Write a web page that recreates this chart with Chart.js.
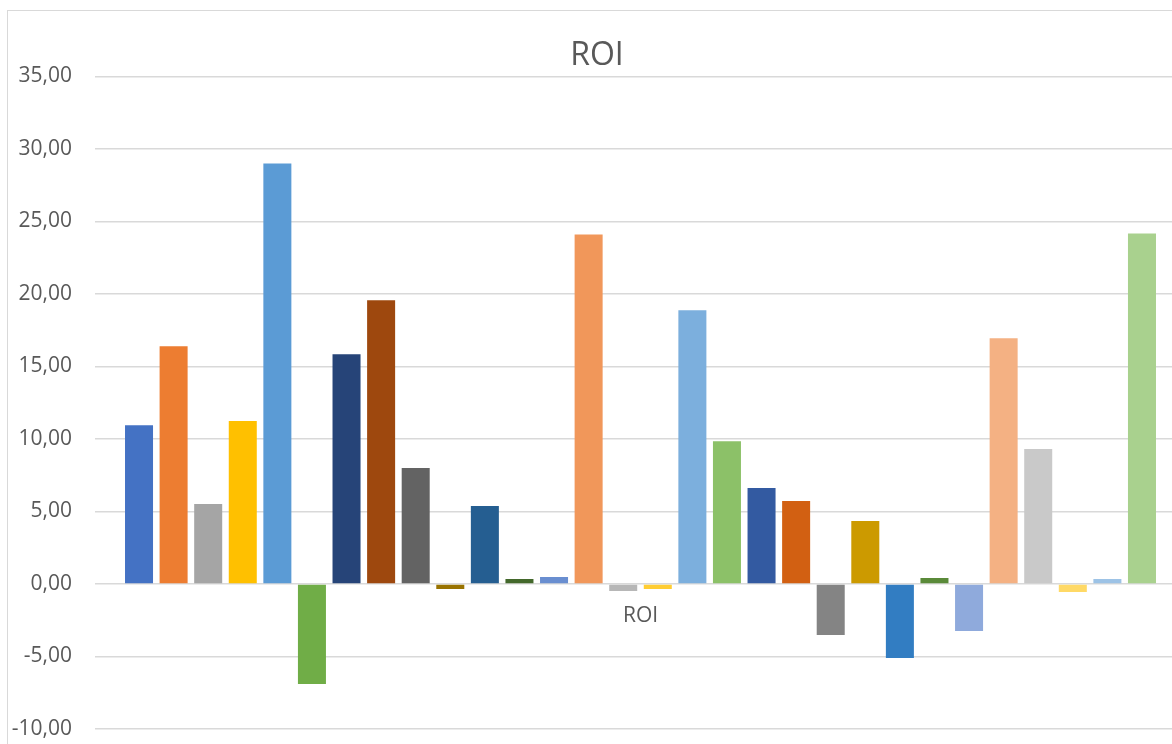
<!DOCTYPE html>
<html>
<head>
<meta charset="utf-8">
<script src="https://cdn.jsdelivr.net/npm/chart.js@4/dist/chart.umd.min.js"></script>
<style>
    html, body { margin: 0; padding: 0; background: #fff; overflow: hidden; }
    #chartBox {
        position: absolute;
        left: 7px;
        top: 10px;
        width: 1178px;
        height: 760px;
        border: 1px solid #d9d9d9;
    }
</style>
</head>
<body>
<div id="chartBox">
    <canvas id="chartRoi" width="1178" height="760"></canvas>
</div>
<script>
    // one category, every series is a single bar
    const categories = ['ROI'];

    const roiValues = [
        10.95, 16.39, 5.51, 11.23, 28.99, -6.89, 15.84, 19.56, 7.99, -0.34,
        5.37, 0.34, 0.48, 24.10, -0.48, -0.34, 18.87, 9.85, 6.61, 5.72,
        -3.51, 4.34, -5.10, 0.41, -3.24, 16.94, 9.30, -0.55, 0.34, 24.17
    ];

    const barColors = [
        '#4472C4', '#ED7D31', '#A5A5A5', '#FFC000', '#5B9BD5', '#70AD47',
        '#264478', '#9E480E', '#636363', '#997300', '#255E91', '#43682B',
        '#698ED0', '#F1975A', '#B7B7B7', '#FFCD33', '#7CAFDD', '#8CC168',
        '#335AA1', '#D26012', '#848484', '#CC9A00', '#327DC2', '#5A8A39',
        '#8FAADC', '#F4B183', '#C9C9C9', '#FFD966', '#9DC3E6', '#A9D18E'
    ];

    const yMin = -10;
    const yMax = 35;
    const yStep = 5;

    function formatTick(value) {
        return value.toFixed(2).replace('.', ',');
    }

    let datasets = [];
    roiValues.forEach((value, i) => {
        datasets.push({
            label: 'ROI ' + (i + 1),
            data: [value],
            backgroundColor: barColors[i],
            borderWidth: 0,
            categoryPercentage: 0.951,
            barPercentage: 0.81
        });
    });

    var ctx = document.getElementById('chartRoi');

    const chartRoi = new Chart(ctx, {
        type: 'bar',
        data: {
            labels: categories,
            datasets: datasets
        },
        options: {
            responsive: false,
            animation: false,
            devicePixelRatio: 1,
            layout: {
                padding: { left: 0, right: 0, top: 0, bottom: 42 }
            },
            plugins: {
                legend: { display: false },
                tooltip: { enabled: false },
                title: {
                    display: true,
                    text: 'ROI',
                    color: '#595959',
                    font: { family: 'Open Sans', size: 32, weight: 'normal', lineHeight: 1.2 },
                    padding: { top: 26, bottom: 1 }
                }
            },
            scales: {
                x: {
                    // category label sits under the zero line
                    position: { y: 0 },
                    grid: { display: false },
                    border: { display: false },
                    ticks: {
                        color: '#595959',
                        padding: 11,
                        font: { family: 'Open Sans', size: 21 }
                    }
                },
                y: {
                    min: yMin,
                    max: yMax,
                    border: { display: false },
                    grid: {
                        color: '#d9d9d9',
                        lineWidth: 1.5,
                        drawTicks: false
                    },
                    ticks: {
                        stepSize: yStep,
                        color: '#595959',
                        padding: 23,
                        font: { family: 'Open Sans', size: 21 },
                        callback: (value) => formatTick(value)
                    },
                    afterFit: (scale) => { scale.width = 87; }
                }
            }
        }
    });
</script>
</body>
</html>
